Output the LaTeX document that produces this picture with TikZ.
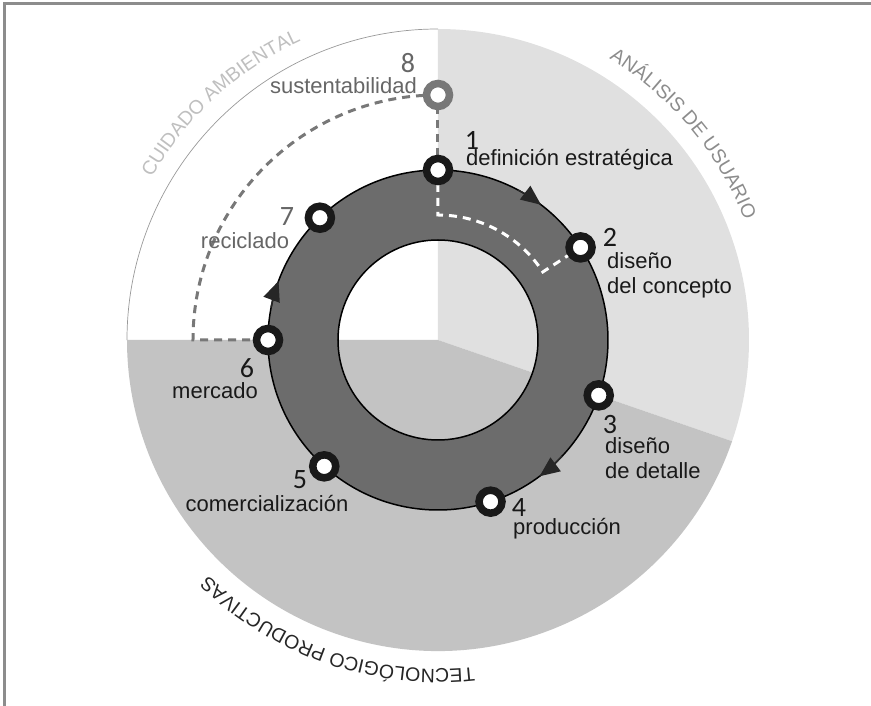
\documentclass[tikz,border=0pt]{standalone}
\usepackage{fontspec}
\setmainfont{Liberation Sans}
\newfontfamily\digitfont{Carlito}
\usepackage{xcolor}
\usepackage{tikz}
\usetikzlibrary{arrows.meta,positioning,decorations.text,backgrounds}
\definecolor{ringgray}{HTML}{6C6C6C}
\definecolor{lightsector}{HTML}{E0E0E0}
\definecolor{midsector}{HTML}{C3C3C3}
\definecolor{framegray}{HTML}{8C8C8C}
\definecolor{dashgray}{HTML}{787878}
\definecolor{textgray}{HTML}{666666}
\newcommand\stagetextfont[0]{\fontsize{22}{25}\selectfont}
\newcommand\stagedigitfont[0]{\digitfont\fontsize{28}{28}\selectfont}
\newcommand\arcfont[0]{\fontsize{19.5}{19.5}\selectfont}

\begin{document}
\begin{tikzpicture}[
        stage/.style={circle, draw=black!90, line width=7.5pt, fill=white,
            minimum size=23pt, inner sep=0pt},
        stagegray/.style={stage, draw=dashgray},
        stagenum/.style={inner sep=0pt, text=black!90, font=\stagedigitfont},
        stagetext/.style={inner sep=0pt, align=left, text=black!90, font=\stagetextfont},
        graydash/.style={draw=dashgray, line width=3pt, dash pattern=on 8pt off 6pt},
        whitedash/.style={draw=white, line width=3pt, dash pattern=on 8pt off 6pt},
        flow/.style={draw=black!85, line width=1.5pt, -{Triangle[length=20pt,width=17pt]}},
        arclabel/.style={decorate, decoration={text along path, text align=center, text={#1}}}
    ]
    \useasboundingbox (-438pt,-366pt) rectangle (433pt,340pt);

    \node[stage] (s1) at (90:170pt) {};
    \node[stage] (s2) at (33:170pt) {};
    \node[stage] (s3) at (-19:170pt) {};
    \node[stage] (s4) at (-72:170pt) {};
    \node[stage] (s5) at (-132:170pt) {};
    \node[stage] (s6) at (180:170pt) {};
    \node[stage] (s7) at (134:170pt) {};
    \node[stagegray] (s8) at (90:245pt) {};

    \node[stagenum] (n1) at (34pt,200pt) {1};
    \node[stagetext, anchor=west] (t1) at (28pt,180pt) {definición estratégica};
    \node[stagenum] (n2) at (172pt,103pt) {2};
    \node[stagetext, anchor=west] (t2) at (169pt,65pt) {diseño\\del concepto};
    \node[stagenum] (n3) at (172pt,-85pt) {3};
    \node[stagetext, anchor=west] (t3) at (167pt,-118pt) {diseño\\de detalle};
    \node[stagenum] (n4) at (81pt,-168pt) {4};
    \node[stagetext, anchor=west] (t4) at (75pt,-189pt) {producción};
    \node[stagenum] (n5) at (-138pt,-140pt) {5};
    \node[stagetext] (t5) at (-171pt,-164pt) {comercialización};
    \node[stagenum] (n6) at (-191pt,-28pt) {6};
    \node[stagetext, anchor=east] (t6) at (-180pt,-51pt) {mercado};
    \node[stagenum, text=textgray] (n7) at (-151pt,123pt) {7};
    \node[stagetext, text=textgray] (t7) at (-193pt,99pt) {reciclado};
    \node[stagenum, text=textgray] (n8) at (-30pt,277pt) {8};
    \node[stagetext, text=textgray, anchor=east] (t8) at (-21pt,254pt) {sustentabilidad};

    \begin{scope}[on background layer]
        \draw[framegray, line width=3pt] (433pt,336pt) -- (-433pt,336pt) -- (-433pt,-366pt);
        \fill[lightsector] (0,0) -- (90:311pt) arc[start angle=90, end angle=-19, radius=311pt] -- cycle;
        \fill[midsector] (0,0) -- (-19:311pt) arc[start angle=-19, end angle=-180, radius=311pt] -- cycle;
        \draw[black!40, line width=0.7pt] (90:311pt) arc[start angle=90, end angle=180, radius=311pt];
        \path[arclabel={|\arcfont\color{black!25}|CUIDADO AMBIENTAL}]
            (162.5:329pt) arc[start angle=162.5, end angle=102.5, radius=329pt];
        \path[arclabel={|\arcfont\color{black!45}|ANÁLISIS DE USUARIO}]
            (70:329pt) arc[start angle=70, end angle=10, radius=329pt];
        \path[arclabel={|\arcfont\color{black!85}|TECNOLÓGICO PRODUCTIVAS}]
            (-74:329pt) arc[start angle=-74, end angle=-144, radius=329pt];
        \fill[ringgray, even odd rule] (0,0) circle[radius=170pt] (0,0) circle[radius=100pt];
        \draw[black, line width=1.5pt] (0,0) circle[radius=170pt] (0,0) circle[radius=100pt];
        \draw[flow] (62:170pt) arc[start angle=62, end angle=52.7, radius=170pt];
        \draw[flow] (-43:170pt) arc[start angle=-43, end angle=-53.3, radius=170pt];
        \draw[flow] (169:170pt) arc[start angle=169, end angle=159.7, radius=170pt];
        \draw[graydash] (s1.center) -- (s8.center);
        \draw[graydash] (s8.center) arc[start angle=90, end angle=180, radius=245pt] -- (s6.center);
        \draw[whitedash] (s1.center) -- (90:125pt) arc[start angle=90, end angle=33, radius=125pt] -- (s2.center);
    \end{scope}
\end{tikzpicture}
\end{document}
